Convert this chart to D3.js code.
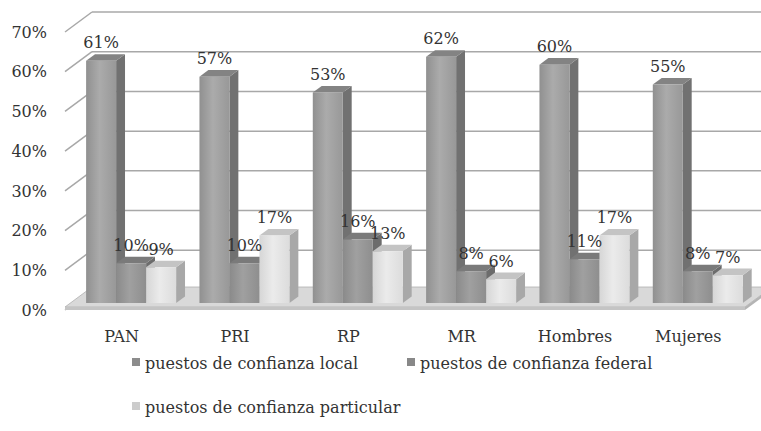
<!DOCTYPE html>
<html>
<head>
<meta charset="utf-8">
<script src="https://cdn.jsdelivr.net/npm/d3@7"></script>
<style>
  body { margin: 0; background: #fff; }
  text { font-family: "DejaVu Serif", serif; fill: #333; }
</style>
</head>
<body>
<svg id="chart" width="761" height="431"></svg>
<script>
const categories = ['PAN', 'PRI', 'RP', 'MR', 'Hombres', 'Mujeres'];
const localVals = [61, 57, 53, 62, 60, 55];
const federalVals = [10, 10, 16, 8, 11, 8];
const particularVals = [9, 17, 13, 6, 17, 7];
const seriesNames = ['puestos de confianza local', 'puestos de confianza federal', 'puestos de confianza particular'];
const yTicks = [0, 10, 20, 30, 40, 50, 60, 70];

const series = [localVals, federalVals, particularVals];
// front / side / top colours per series
const faces = [
  { front: ['#909090', '#ababab', '#989898'], side: '#717171', top: '#838383', key: '#8c8c8c' },
  { front: ['#8a8a8a', '#a0a0a0', '#8e8e8e'], side: '#6c6c6c', top: '#7a7a7a', key: '#888888' },
  { front: ['#d6d6d6', '#ebebeb', '#dcdcdc'], side: '#a8a8a8', top: '#c4c4c4', key: '#cccccc' }
];

const svg = d3.select('#chart');
const DEPTH = [27, -20];
const BAR_W = 30;
const D0 = 0.35, D1 = 0.68;

const y = d3.scaleLinear().domain([0, 70]).range([310, 32]);
const x = d3.scaleBand().domain(categories).range([65, 745]);

const proj = (px, py, d) => [px + d * DEPTH[0], py + d * DEPTH[1]];
const pts = arr => arr.map(p => p.join(',')).join(' ');

// gradients for bar fronts
const defs = svg.append('defs');
faces.forEach((f, i) => {
  const g = defs.append('linearGradient').attr('id', 'grad' + i)
    .attr('x1', 0).attr('x2', 1).attr('y1', 0).attr('y2', 0);
  g.append('stop').attr('offset', '0%').attr('stop-color', f.front[0]);
  g.append('stop').attr('offset', '45%').attr('stop-color', f.front[1]);
  g.append('stop').attr('offset', '100%').attr('stop-color', f.front[2]);
});

// back wall gridlines + left wall diagonals
const grid = svg.append('g').attr('class', 'grid');
yTicks.forEach(t => {
  const f = [65, y(t)];
  const b = proj(65, y(t), 1);
  if (t > 0) {
    grid.append('line')
      .attr('x1', b[0]).attr('y1', b[1]).attr('x2', 761).attr('y2', b[1])
      .attr('stroke', '#a8a8a8').attr('stroke-width', 1.5);
  }
  grid.append('line')
    .attr('x1', f[0]).attr('y1', f[1]).attr('x2', b[0]).attr('y2', b[1])
    .attr('stroke', '#a8a8a8').attr('stroke-width', 1.5);
});

// floor slab
const floorY = y(0) - 3;
svg.append('polygon')
  .attr('points', pts([proj(65, floorY, 0), proj(745, floorY, 0), proj(745, floorY, 1), proj(65, floorY, 1)]))
  .attr('fill', '#d9d9d9').attr('stroke', '#b0b0b0').attr('stroke-width', 0.8);
svg.append('polygon')
  .attr('points', pts([[65, floorY], [745, floorY], [745, y(0)], [65, y(0)]]))
  .attr('fill', '#c4c4c4');
svg.append('polygon')
  .attr('points', pts([[745, floorY], proj(745, floorY, 1), proj(745, y(0), 1), [745, y(0)]]))
  .attr('fill', '#b4b4b4');

// y axis labels
svg.append('g').selectAll('text')
  .data(yTicks).enter().append('text')
  .attr('x', 47).attr('y', d => y(d)).attr('dy', '0.36em')
  .attr('text-anchor', 'end').attr('font-size', 16)
  .text(d => d + '%');

// bars
const barsG = svg.append('g').attr('class', 'bars');
const labels = [];
categories.forEach((cat, ci) => {
  const gx = x(cat) + (x.bandwidth() - BAR_W * series.length) / 2;
  series.forEach((vals, si) => {
    const v = vals[ci];
    const x0 = gx + si * BAR_W, x1 = x0 + BAR_W;
    const yb = y(0), yt = y(v);
    const fbl = proj(x0, yb, D0), fbr = proj(x1, yb, D0);
    const ftl = proj(x0, yt, D0), ftr = proj(x1, yt, D0);
    const btl = proj(x0, yt, D1), btr = proj(x1, yt, D1);
    const bbr = proj(x1, yb, D1);
    const g = barsG.append('g');
    g.append('polygon').attr('points', pts([fbr, ftr, btr, bbr])).attr('fill', faces[si].side);
    g.append('polygon').attr('points', pts([ftl, ftr, btr, btl])).attr('fill', faces[si].top);
    g.append('polygon').attr('points', pts([fbl, fbr, ftr, ftl])).attr('fill', 'url(#grad' + si + ')');
    labels.push({ x: (ftl[0] + ftr[0]) / 2, y: btl[1] - 6, text: v + '%' });
  });
});

svg.append('g').selectAll('text')
  .data(labels).enter().append('text')
  .attr('x', d => d.x).attr('y', d => d.y)
  .attr('text-anchor', 'middle').attr('font-size', 16)
  .text(d => d.text);

// category labels
svg.append('g').selectAll('text')
  .data(categories).enter().append('text')
  .attr('x', d => x(d) + x.bandwidth() / 2).attr('y', 336).attr('dy', '0.36em')
  .attr('text-anchor', 'middle').attr('font-size', 16)
  .text(d => d);

// legend
const legendPos = [[132, 363], [407, 363], [132, 407]];
const legend = svg.append('g').selectAll('g')
  .data(seriesNames).enter().append('g')
  .attr('transform', (d, i) => `translate(${legendPos[i][0]},${legendPos[i][1]})`);
legend.append('rect').attr('x', 0).attr('y', -5).attr('width', 8).attr('height', 8)
  .attr('fill', (d, i) => faces[i].key);
legend.append('text').attr('x', 13).attr('y', 0).attr('dy', '0.36em')
  .attr('font-size', 16).text(d => d);
</script>
</body>
</html>
